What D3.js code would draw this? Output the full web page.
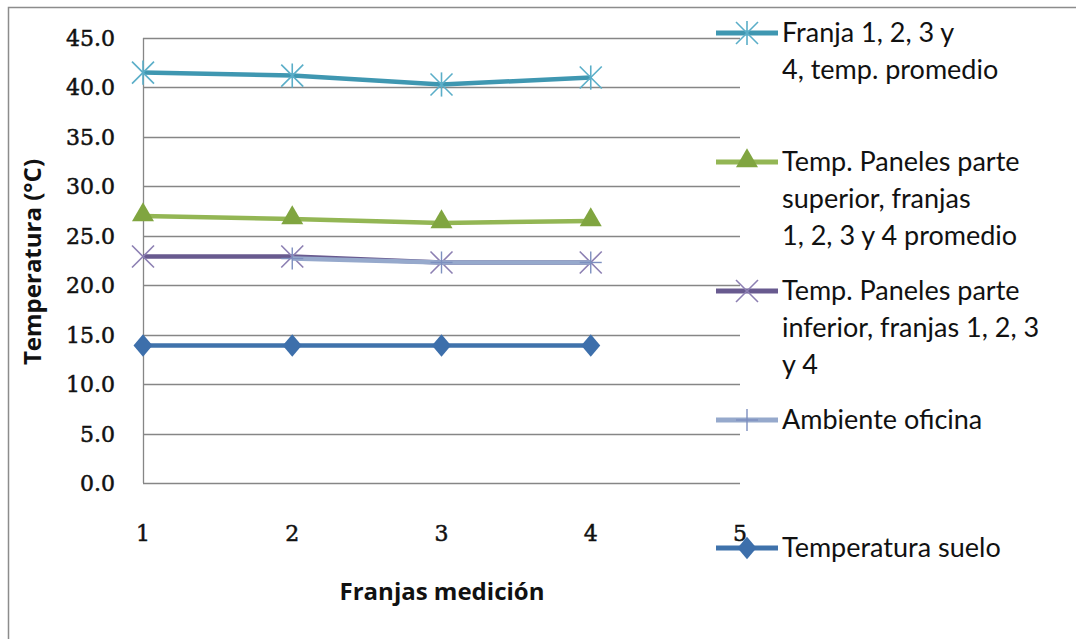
<!DOCTYPE html>
<html>
<head>
<meta charset="utf-8">
<script src="https://cdnjs.cloudflare.com/ajax/libs/d3/7.8.5/d3.min.js"></script>
<style>
  body { margin: 0; background: #fff; }
  svg { display: block; }
</style>
</head>
<body>
<svg id="chart"></svg>
<script>
// data
const franjas = [1, 2, 3, 4];
const xTicks = [1, 2, 3, 4, 5];
const yTicks = [0, 5, 10, 15, 20, 25, 30, 35, 40, 45];

const franjaPromedio = [41.5, 41.2, 40.3, 41.0];
const panelesSuperior = [27.0, 26.7, 26.3, 26.5];
const panelesInferior = [22.9, 22.9, 22.3, 22.3];
const ambienteOficina = [null, 22.7, 22.3, 22.3];
const temperaturaSuelo = [13.9, 13.9, 13.9, 13.9];

const seriesNames = [
  ['Franja 1, 2, 3 y', '4, temp. promedio'],
  ['Temp. Paneles parte', 'superior, franjas', '1, 2, 3 y 4 promedio'],
  ['Temp. Paneles parte', 'inferior, franjas 1, 2, 3', 'y 4'],
  ['Ambiente oficina'],
  ['Temperatura suelo']
];

const width = 1076, height = 639;
const plot = {left: 143, right: 740, top: 38, bottom: 483};

const svg = d3.select('#chart')
  .attr('width', width)
  .attr('height', height);

// outer chart frame (right and bottom edges cut off in the picture)
svg.append('rect')
  .attr('x', 8.5).attr('y', 7.5)
  .attr('width', width + 20).attr('height', height + 20)
  .attr('fill', '#fff')
  .attr('stroke', '#8c8c8c')
  .attr('stroke-width', 1.5);

const x = d3.scaleLinear().domain([1, 5]).range([plot.left, plot.right]);
const y = d3.scaleLinear().domain([0, 45]).range([plot.bottom, plot.top]);

// gridlines
svg.append('g')
  .selectAll('line')
  .data(yTicks)
  .enter().append('line')
  .attr('x1', plot.left).attr('x2', plot.right)
  .attr('y1', d => Math.round(y(d)) + 0.5)
  .attr('y2', d => Math.round(y(d)) + 0.5)
  .attr('stroke', '#868686')
  .attr('stroke-width', 1.3);

// y axis line
svg.append('line')
  .attr('x1', plot.left + 0.5).attr('x2', plot.left + 0.5)
  .attr('y1', plot.top).attr('y2', plot.bottom)
  .attr('stroke', '#868686')
  .attr('stroke-width', 1.3);

const tickFont = '"DejaVu Serif", "Liberation Serif", serif';

// tick labels
svg.append('g')
  .selectAll('text')
  .data(yTicks)
  .enter().append('text')
  .attr('x', 115)
  .attr('y', d => y(d) + 8)
  .attr('text-anchor', 'end')
  .style('font-family', tickFont)
  .style('font-size', '22px')
  .attr('fill', '#111')
  .attr('stroke', '#111')
  .attr('stroke-width', 0.5)
  .text(d => d3.format('.1f')(d));

svg.append('g')
  .selectAll('text')
  .data(xTicks)
  .enter().append('text')
  .attr('x', d => x(d))
  .attr('y', 541)
  .attr('text-anchor', 'middle')
  .style('font-family', tickFont)
  .style('font-size', '22px')
  .attr('fill', '#111')
  .attr('stroke', '#111')
  .attr('stroke-width', 0.5)
  .text(d => d);

// axis titles
svg.append('text')
  .attr('transform', 'translate(41,262) rotate(-90)')
  .attr('text-anchor', 'middle')
  .style('font-family', '"Open Sans", sans-serif')
  .style('font-weight', 'bold')
  .style('font-size', '24px')
  .attr('fill', '#111')
  .text('Temperatura (°C)');

svg.append('text')
  .attr('x', 442).attr('y', 600)
  .attr('text-anchor', 'middle')
  .style('font-family', '"Open Sans", sans-serif')
  .style('font-weight', 'bold')
  .style('font-size', '24px')
  .attr('fill', '#111')
  .text('Franjas medición');

// marker shapes
function drawMarker(g, type, cx, cy, s) {
  if (type === 'star') {
    const r = 11;
    [[-1, -1, 1, 1], [-1, 1, 1, -1], [0, -1.1, 0, 1.1]].forEach(p => {
      g.append('line')
        .attr('x1', cx + p[0] * r).attr('y1', cy + p[1] * r)
        .attr('x2', cx + p[2] * r).attr('y2', cy + p[3] * r)
        .attr('stroke', s.marker).attr('stroke-width', 1.6);
    });
  } else if (type === 'x') {
    const r = 11;
    [[-1, -1, 1, 1], [-1, 1, 1, -1]].forEach(p => {
      g.append('line')
        .attr('x1', cx + p[0] * r).attr('y1', cy + p[1] * r)
        .attr('x2', cx + p[2] * r).attr('y2', cy + p[3] * r)
        .attr('stroke', s.marker).attr('stroke-width', 1.6);
    });
  } else if (type === 'plus') {
    const r = 11;
    g.append('line')
      .attr('x1', cx).attr('y1', cy - r).attr('x2', cx).attr('y2', cy + r)
      .attr('stroke', s.marker).attr('stroke-width', 1.4);
    g.append('line')
      .attr('x1', cx - r).attr('y1', cy).attr('x2', cx + r).attr('y2', cy)
      .attr('stroke', s.marker).attr('stroke-width', 1.4);
  } else {
    const sym = type === 'triangle' ? d3.symbolTriangle : d3.symbolDiamond;
    const size = type === 'triangle' ? 210 : 200;
    g.append('path')
      .attr('d', d3.symbol().type(sym).size(size)())
      .attr('transform', type === 'diamond'
        ? `translate(${cx},${cy}) scale(1.25,0.85)`
        : `translate(${cx},${cy - 1})`)
      .attr('fill', s.marker);
  }
}

const series = [
  {values: franjaPromedio, line: '#3f97b1', marker: '#5aaec8', type: 'star'},
  {values: panelesSuperior, line: '#93b654', marker: '#80a540', type: 'triangle'},
  {values: panelesInferior, line: '#685a8f', marker: '#8c7fb2', type: 'x'},
  {values: ambienteOficina, line: '#96a9cc', marker: '#7d8fbf', type: 'plus'},
  {values: temperaturaSuelo, line: '#3f72ab', marker: '#3d6fab', type: 'diamond'}
];

const line = d3.line()
  .defined(d => d.v !== null)
  .x(d => x(d.f))
  .y(d => y(d.v));

// draw lower series first so the order on top matches the picture
const drawOrder = [4, 1, 2, 3, 0];
drawOrder.forEach(i => {
  const s = series[i];
  const pts = franjas.map((f, j) => ({f: f, v: s.values[j]}));
  const g = svg.append('g');
  g.append('path')
    .attr('d', line(pts))
    .attr('fill', 'none')
    .attr('stroke', s.line)
    .attr('stroke-width', 4.5)
    .attr('stroke-linejoin', 'round');
  pts.filter(p => p.v !== null).forEach(p => drawMarker(g, s.type, x(p.f), y(p.v), s));
});

// legend
const legendY = [33, 162, 291, 420, 548];
const legend = svg.append('g');
series.forEach((s, i) => {
  const g = legend.append('g');
  const cy = legendY[i];
  g.append('line')
    .attr('x1', 716).attr('x2', 778)
    .attr('y1', cy).attr('y2', cy)
    .attr('stroke', s.line)
    .attr('stroke-width', 5);
  drawMarker(g, s.type, 747, cy, s);
  g.selectAll('text')
    .data(seriesNames[i])
    .enter().append('text')
    .attr('x', 782)
    .attr('y', (d, k) => cy + 9 + k * 37)
    .style('font-family', 'Lato, "Open Sans", sans-serif')
    .style('font-size', '27px')
    .attr('fill', '#111')
    .text(d => d);
});
</script>
</body>
</html>
